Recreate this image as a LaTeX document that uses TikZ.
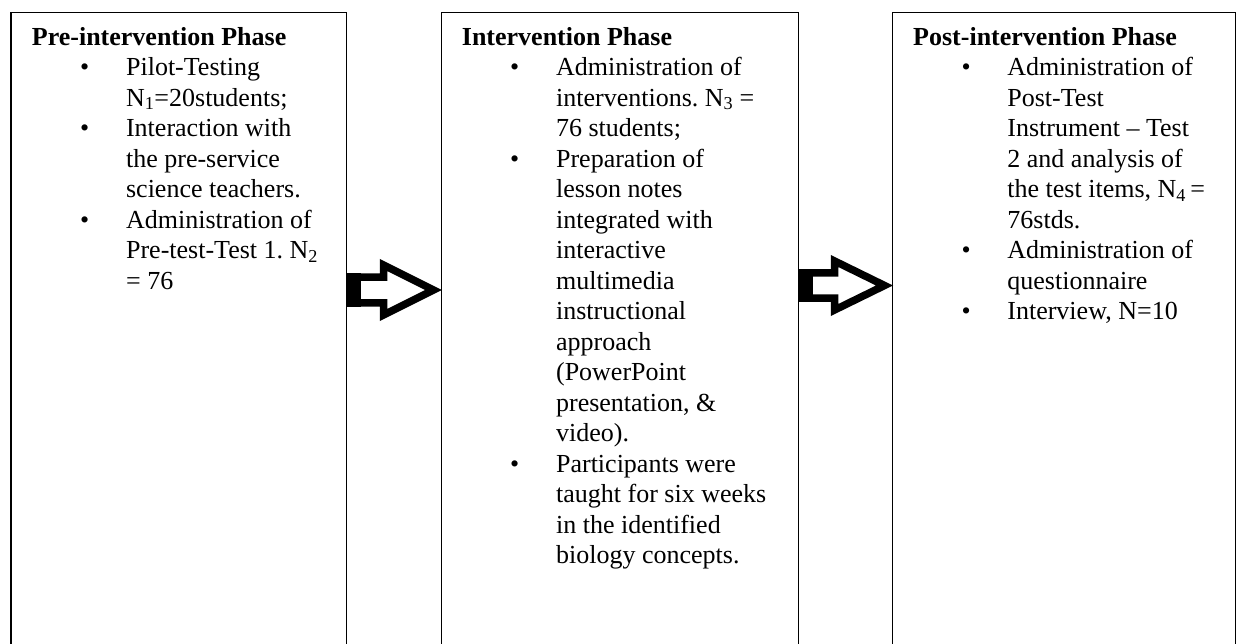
\documentclass[tikz,border=0pt]{standalone}
\usepackage{fontspec}
\setmainfont{Liberation Serif}
\usetikzlibrary{calc}
\newcommand\bul{\hspace*{48.3pt}\makebox[45.9pt][l]{•}}
\newcommand\cnt{\hspace*{94.2pt}}
\begin{document}
\begin{tikzpicture}[x=1pt,y=-1pt,
  phase/.style={draw, line width=1.5pt, anchor=north west, minimum height=700pt, inner sep=0pt},
  txt/.style={anchor=north west, align=left, inner sep=0pt, font=\fontsize{26}{30.5}\selectfont\frenchspacing},
  blk/.style={draw, line width=7.5pt, miter limit=10, fill=white, line join=miter}]
\path[use as bounding box] (0,0) rectangle (1239,644);
\begin{scope}
\clip (0,0) rectangle (1239,644);
\node[phase, minimum width=335.5pt] (b1) at (10,12) {};
\node[phase, minimum width=357pt] (b2) at (440.5,12) {};
\node[phase, minimum width=343pt] (b3) at (891.5,12) {};
\end{scope}
\node[txt] (t1) at (31.7,23.7) {\strut\textbf{Pre-intervention Phase}\\
\bul Pilot-Testing\\
\cnt N\textsubscript{1}=20students;\\
\bul Interaction with\\
\cnt the pre-service\\
\cnt science teachers.\\
\bul Administration of\\
\cnt Pre-test-Test 1. N\textsubscript{2}\\
\cnt = 76};
\node[txt] (t2) at (461.7,23.7) {\strut\textbf{Intervention Phase}\\
\bul Administration of\\
\cnt interventions. N\textsubscript{3} =\\
\cnt 76 students;\\
\bul Preparation of\\
\cnt lesson notes\\
\cnt integrated with\\
\cnt interactive\\
\cnt multimedia\\
\cnt instructional\\
\cnt approach\\
\cnt (PowerPoint\\
\cnt presentation, \&\\
\cnt video).\\
\bul Participants were\\
\cnt taught for six weeks\\
\cnt in the identified\\
\cnt biology concepts.};
\node[txt] (t3) at (913,23.7) {\strut\textbf{Post-intervention Phase}\\
\bul Administration of\\
\cnt Post-Test\\
\cnt Instrument – Test\\
\cnt 2 and analysis of\\
\cnt the test items, N\textsubscript{4}\,=\\
\cnt 76stds.\\
\bul Administration of\\
\cnt questionnaire\\
\bul Interview, N=10};
% arrow 1
\coordinate (a1) at ($(b1.north east)+(0,278)$);
\coordinate (a1tip) at ($(b2.north west)+(0,278)$);
\begin{scope}[shift={(a1)}]
\draw[blk] (7,-12.95) -- (36.5,-12.95) -- (36.5,-25) -- (86.5,0) -- (36.5,25) -- (36.5,12.95) -- (7,12.95) -- cycle;
\fill (-0.5,-16.7) rectangle (13.8,16.7);
\end{scope}
% arrow 2
\coordinate (a2) at ($(b2.north east)+(0,273.5)$);
\coordinate (a2tip) at ($(b3.north west)+(0,273.5)$);
\begin{scope}[shift={(a2)}]
\draw[blk] (7,-12.5) -- (35.5,-12.5) -- (35.5,-24.5) -- (85.5,0) -- (35.5,24.5) -- (35.5,12.5) -- (7,12.5) -- cycle;
\fill (-1.5,-16.2) rectangle (13.5,16.2);
\end{scope}
\end{tikzpicture}
\end{document}
